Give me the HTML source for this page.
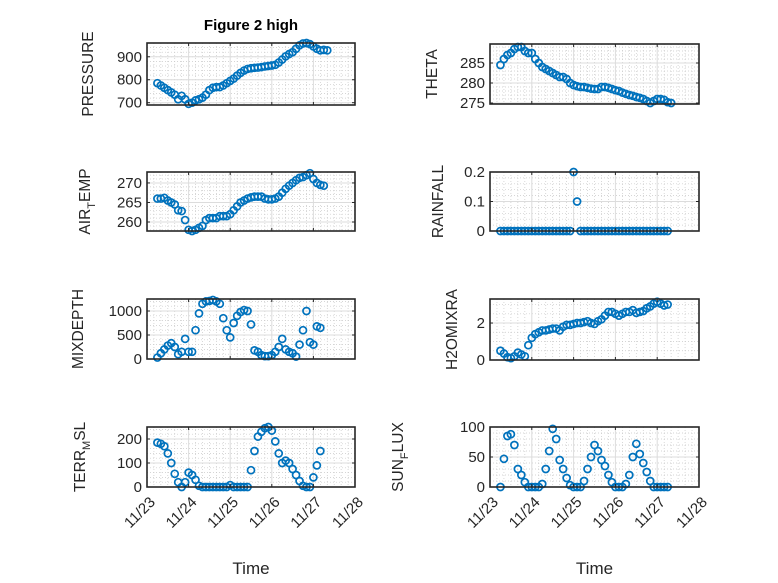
<!DOCTYPE html>
<html><head><meta charset="utf-8"><style>
html,body{margin:0;padding:0;background:#fff;}
svg{display:block;font-family:"Liberation Sans","DejaVu Sans",sans-serif;}
</style></head><body>
<svg id="fig" width="778" height="583" viewBox="0 0 778 583">
<rect width="778" height="583" fill="#fff"/>
<text x="251" y="30" text-anchor="middle" font-size="15" font-weight="bold" fill="#000">Figure 2 high</text>
</svg>
<script>
const timeStartDay = 0.25;
const timeStepDay = 1/12;
const xTickLabels = ["11/23","11/24","11/25","11/26","11/27","11/28"];
const pressure = [785,775,765,755,745,735,715,730,715,695,700,710,715,722,735,755,765,768,768,775,785,795,805,818,830,840,847,850,852,853,855,858,860,862,865,875,888,902,912,920,935,950,958,960,955,945,935,928,930,928];
const theta = [284.5,286,287,287.5,288.5,289,289,288,287.5,287.5,286,285,284,283.5,283,282.5,282,281.5,281.5,281,280,279.5,279.2,279,279,278.8,278.6,278.5,278.5,279,279,278.8,278.5,278.2,278,277.6,277.3,277,276.8,276.5,276.3,276,275.5,275,275.5,276,276,275.8,275.2,275];
const airTemp = [266,266,266.2,265.5,265,264.5,263,262.8,260.5,258,257.7,258,258.5,259,260.5,261,261,261,261.5,261.5,261.5,262,263,264,265,265.5,266,266.3,266.5,266.5,266.5,266,265.8,265.8,266,266.5,267.5,268.5,269.3,270,270.7,271.3,271.5,272,272.5,271,270,269.5,269.3,null];
const rainfall = [0,0,0,0,0,0,0,0,0,0,0,0,0,0,0,0,0,0,0,0,0,0.2,0.1,0,0,0,0,0,0,0,0,0,0,0,0,0,0,0,0,0,0,0,0,0,0,0,0,0,0,null];
const mixDepth = [30,120,200,280,330,250,100,150,420,150,150,600,950,1150,1200,1210,1230,1200,1150,850,600,450,750,900,980,1020,1000,720,180,150,80,60,60,80,150,250,420,200,150,120,50,300,600,1000,350,300,680,650,null,null];
const h2oMix = [0.5,0.35,0.15,0.1,0.2,0.4,0.3,0.2,0.8,1.2,1.4,1.5,1.6,1.6,1.65,1.7,1.7,1.6,1.8,1.9,1.9,1.95,2.0,2.0,2.05,2.1,2.0,1.95,2.1,2.2,2.4,2.6,2.6,2.5,2.4,2.5,2.6,2.6,2.7,2.55,2.6,2.65,2.8,2.9,3.05,3.15,3.05,2.95,3.0,null];
const terrMsl = [185,180,170,140,100,55,20,0,20,60,50,30,5,0,0,0,0,0,0,0,0,8,0,0,0,0,0,70,150,210,230,245,250,235,190,140,100,110,100,75,50,25,5,0,0,40,90,150,null,null];
const sunFlux = [0,47,85,88,70,30,20,8,0,0,0,0,5,30,60,97,80,45,30,15,3,0,0,0,10,30,50,70,60,45,35,20,8,0,0,0,5,20,50,72,55,40,25,10,0,0,0,0,0,null];

const svg = document.getElementById('fig');
const NS = 'http://www.w3.org/2000/svg';
function mk(tag, attrs, parent){const e=document.createElementNS(NS,tag);for(const k in attrs)e.setAttribute(k,attrs[k]);(parent||svg).appendChild(e);return e;}

const panels = [
 {name:'pressure',data:pressure,x0:147,x1:355,y0:43,y1:105,ymin:690,ymax:960,ticks:[700,800,900],minor:20,label:['PRESSURE'],lx:88,col:0},
 {name:'theta',data:theta,x0:490,x1:699,y0:44,y1:104,ymin:274.75,ymax:289.75,ticks:[275,280,285],minor:1,label:['THETA'],lx:432,col:1},
 {name:'air-temp',data:airTemp,x0:147,x1:355,y0:172,y1:231,ymin:257.7,ymax:272.8,ticks:[260,265,270],minor:1,label:['AIR','T','EMP'],lx:85,col:0},
 {name:'rainfall',data:rainfall,x0:490,x1:699,y0:172,y1:231,ymin:0,ymax:0.2,ticks:[0,0.1,0.2],minor:0.02,label:['RAINFALL'],lx:438,col:1},
 {name:'mixdepth',data:mixDepth,x0:147,x1:355,y0:299,y1:359,ymin:0,ymax:1250,ticks:[0,500,1000],minor:100,label:['MIXDEPTH'],lx:78,col:0},
 {name:'h2omixra',data:h2oMix,x0:490,x1:699,y0:299,y1:360,ymin:0,ymax:3.3,ticks:[0,2],minor:0.5,label:['H2OMIXRA'],lx:452,col:1},
 {name:'terr-msl',data:terrMsl,x0:147,x1:355,y0:427,y1:487,ymin:0,ymax:250,ticks:[0,100,200],minor:20,label:['TERR','M','SL'],lx:80,col:0},
 {name:'sun-flux',data:sunFlux,x0:490,x1:699,y0:427,y1:487,ymin:0,ymax:100,ticks:[0,50,100],minor:10,label:['SUN','F','LUX'],lx:398,col:1}
];

panels.forEach((p,pi)=>{
  const g = mk('g',{});
  
  
  const sx = t => p.x0 + (t/5)*(p.x1-p.x0);
  const sy = v => p.y1 - (v-p.ymin)/(p.ymax-p.ymin)*(p.y1-p.y0);
  mk('rect',{x:p.x0,y:p.y0,width:p.x1-p.x0,height:p.y1-p.y0,fill:'#fff'},g);
  for(let i=1;i<30;i++){ if(i%6===0) continue; const x=sx(i/6);
    mk('line',{x1:x,x2:x,y1:p.y0,y2:p.y1,stroke:'#c8c8c8','stroke-width':0.7,'stroke-dasharray':'1,2'},g);}
  const start = Math.ceil(p.ymin/p.minor)*p.minor;
  for(let v=start; v<=p.ymax+1e-9; v+=p.minor){ const y=sy(v); if(y<=p.y0+0.5||y>=p.y1-0.5) continue;
    mk('line',{x1:p.x0,x2:p.x1,y1:y,y2:y,stroke:'#c8c8c8','stroke-width':0.7,'stroke-dasharray':'1,2'},g);}
  for(let i=1;i<5;i++){const x=sx(i); mk('line',{x1:x,x2:x,y1:p.y0,y2:p.y1,stroke:'#dcdcdc','stroke-width':1},g);}
  p.ticks.forEach(v=>{const y=sy(v); if(y>p.y0+0.5&&y<p.y1-0.5) mk('line',{x1:p.x0,x2:p.x1,y1:y,y2:y,stroke:'#dcdcdc','stroke-width':1},g);});
  p.data.forEach((v,i)=>{ if(v===null) return;
    const c = mk('circle',{cx:sx(timeStartDay+i*timeStepDay),cy:sy(v),r:3.5,fill:'none',stroke:'#0072BD','stroke-width':1.7},g);
    
    
  });
  mk('rect',{x:p.x0,y:p.y0,width:p.x1-p.x0,height:p.y1-p.y0,fill:'none',stroke:'#262626','stroke-width':1.6},g);
  for(let i=0;i<=5;i++){const x=sx(i);
    mk('line',{x1:x,x2:x,y1:p.y1,y2:p.y1-3,stroke:'#262626'},g);
    mk('line',{x1:x,x2:x,y1:p.y0,y2:p.y0+3,stroke:'#262626'},g);}
  p.ticks.forEach(v=>{const y=sy(v);
    mk('line',{x1:p.x0,x2:p.x0+3,y1:y,y2:y,stroke:'#262626'},g);
    mk('line',{x1:p.x1,x2:p.x1-3,y1:y,y2:y,stroke:'#262626'},g);
    const t=mk('text',{x:p.x0-5,y:y+5,'text-anchor':'end','font-size':15,fill:'#262626'},g);
    t.textContent = String(v);
    
    
  });
  const cy=(p.y0+p.y1)/2;
  const yl = mk('text',{x:0,y:0,'text-anchor':'middle','font-size':15.5,fill:'#262626',transform:`translate(${p.lx+5},${cy}) rotate(-90)`},g);
  
  
  if(p.label.length===1){ yl.textContent=p.label[0]; }
  else {
    const a=mk('tspan',{},yl); a.textContent=p.label[0];
    const b=mk('tspan',{dy:5,'font-size':11},yl); b.textContent=p.label[1];
    const c=mk('tspan',{dy:-5},yl); c.textContent=p.label[2];
  }
  if(pi>=6){
    xTickLabels.forEach((lab,i)=>{const x=sx(i);
      const t=mk('text',{x:0,y:0,'text-anchor':'end','font-size':15,fill:'#262626',transform:`translate(${x+9},${p.y1+16}) rotate(-45)`},g);
      t.textContent=lab;
      
      
    });
    const xt=mk('text',{x:(p.x0+p.x1)/2,y:574,'text-anchor':'middle','font-size':17,fill:'#262626'},g);
    xt.textContent='Time';
    
    
  }
});
</script>
</body></html>
